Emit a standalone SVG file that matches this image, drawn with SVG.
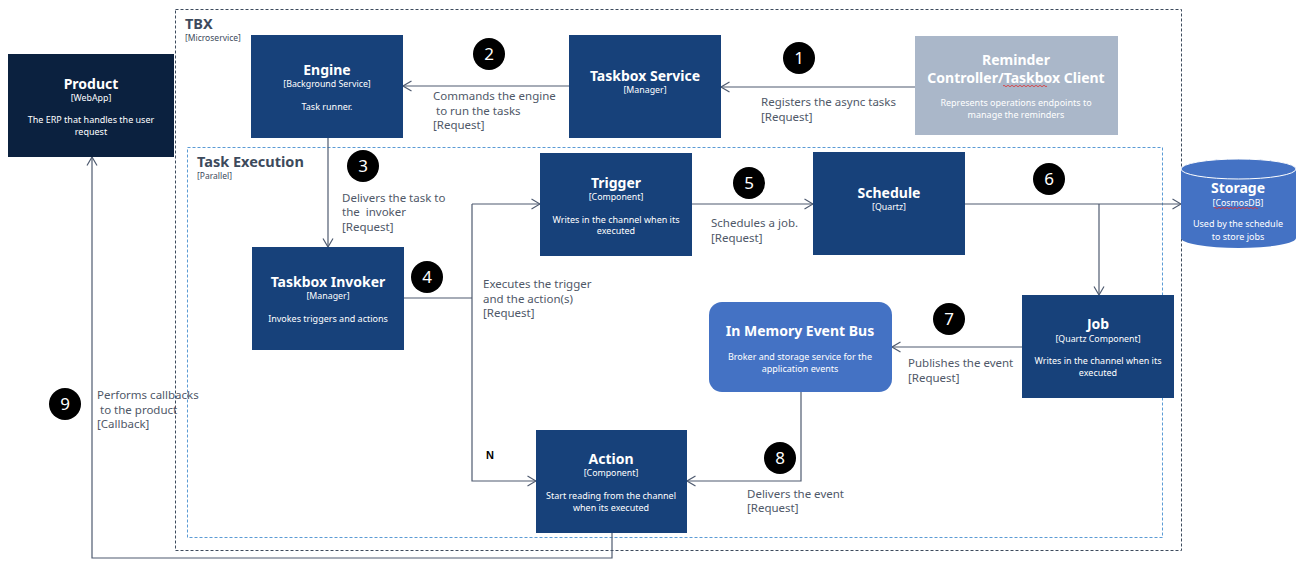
<svg xmlns="http://www.w3.org/2000/svg" width="1301" height="568" viewBox="0 0 1301 568">
  <style>
    .boundary { fill: none; stroke: #3d4a5c; stroke-width: 1; stroke-dasharray: 3 2; }
    .inner { fill: none; stroke: #5b9bd5; stroke-width: 1; stroke-dasharray: 3 2; }
    .btitle { font-family: "Noto Sans", "Open Sans", sans-serif; font-weight: bold; font-size: 14.5px; fill: #3d4a5c; }
    .btype { font-family: "Noto Sans", "Open Sans", sans-serif; font-size: 8.5px; fill: #3d4a5c; }
    .box { fill: #17417a; }
    .title { font-family: "Noto Sans", "Open Sans", sans-serif; font-weight: bold; font-size: 14px; fill: #ffffff; text-anchor: middle; }
    .type { font-family: "Noto Sans", "Open Sans", sans-serif; font-size: 8.8px; fill: #ffffff; text-anchor: middle; }
    .desc { font-family: "Noto Sans", "Open Sans", sans-serif; font-size: 9px; fill: #ffffff; text-anchor: middle; }
    .wire { fill: none; stroke: #4f5b70; stroke-width: 1.2; }
    .label { font-family: "Noto Sans", "Open Sans", sans-serif; font-size: 11.5px; fill: #4f5868; white-space: pre; }
    .badge { fill: #000000; }
    .num { font-family: "Noto Sans", "Open Sans", sans-serif; font-size: 17px; fill: #ffffff; text-anchor: middle; }
    .squiggle { fill: none; stroke: #e03030; stroke-width: 0.8; }
  </style>
  <defs>
    <marker id="arrow" viewBox="0 0 10 12" refX="9.5" refY="6" markerWidth="10" markerHeight="12" markerUnits="userSpaceOnUse" orient="auto">
      <path d="M1 1 L9.5 6 L1 11" fill="none" stroke="#4f5b70" stroke-width="1.2"/>
    </marker>
  </defs>

  <rect width="1301" height="568" fill="#ffffff"/>

  <!-- TBX microservice boundary -->
  <g id="tbx">
    <rect class="boundary" x="175.5" y="9.5" width="1006" height="541"/>
    <text class="btitle" x="185" y="29">TBX</text>
    <text class="btype" x="185" y="41">[Microservice]</text>
  </g>

  <!-- Task execution boundary -->
  <g id="task-execution">
    <rect class="inner" x="187.5" y="147.5" width="975" height="390"/>
    <text class="btitle" x="197" y="167">Task Execution</text>
    <text class="btype" x="197" y="179">[Parallel]</text>
  </g>

  <!-- Connectors -->
  <g id="connectors">
    <path class="wire" d="M915 87 H721" marker-end="url(#arrow)"/>
    <path class="wire" d="M569 86 H403" marker-end="url(#arrow)"/>
    <path class="wire" d="M328 138 V247" marker-end="url(#arrow)"/>
    <path class="wire" d="M404 298 H472"/>
    <path class="wire" d="M472 204 H540" marker-end="url(#arrow)"/>
    <path class="wire" d="M472 204 V481 H536" marker-end="url(#arrow)"/>
    <path class="wire" d="M692 204 H813" marker-end="url(#arrow)"/>
    <path class="wire" d="M965 204 H1181" marker-end="url(#arrow)"/>
    <path class="wire" d="M1099 204 V295" marker-end="url(#arrow)"/>
    <path class="wire" d="M1022 347 H892" marker-end="url(#arrow)"/>
    <path class="wire" d="M801 392 V481 H687" marker-end="url(#arrow)"/>
    <path class="wire" d="M612 533 V558 H92 V157" marker-end="url(#arrow)"/>

    <text class="label" x="761" y="106">Registers the async tasks</text>
    <text class="label" x="761" y="121">[Request]</text>

    <text class="label" x="433" y="100">Commands the engine</text>
    <text class="label" x="433" y="115" xml:space="preserve"> to run the tasks</text>
    <text class="label" x="433" y="129">[Request]</text>

    <text class="label" x="342" y="202">Delivers the task to</text>
    <text class="label" x="342" y="216" xml:space="preserve">the  invoker</text>
    <text class="label" x="342" y="231">[Request]</text>

    <text class="label" x="483" y="288">Executes the trigger</text>
    <text class="label" x="483" y="303">and the action(s)</text>
    <text class="label" x="483" y="317">[Request]</text>

    <text class="label" x="711" y="227">Schedules a job.</text>
    <text class="label" x="711" y="242">[Request]</text>

    <text class="label" x="908" y="367">Publishes the event</text>
    <text class="label" x="908" y="382">[Request]</text>

    <text class="label" x="747" y="498">Delivers the event</text>
    <text class="label" x="747" y="512">[Request]</text>

    <text class="label" x="97" y="399">Performs callbacks</text>
    <text class="label" x="97" y="414" xml:space="preserve"> to the product</text>
    <text class="label" x="97" y="428">[Callback]</text>

    <text x="486" y="459" font-family="Liberation Sans, Arial, sans-serif" font-weight="bold" font-size="11" fill="#000000">N</text>
  </g>

  <!-- Product -->
  <g id="product">
    <rect x="8" y="54" width="166" height="103" fill="#0b213f"/>
    <text class="title" x="91" y="89">Product</text>
    <text class="type" x="91" y="101">[WebApp]</text>
    <text class="desc" x="91" y="123">The ERP that handles the user</text>
    <text class="desc" x="91" y="135">request</text>
  </g>

  <!-- Engine -->
  <g id="engine">
    <rect class="box" x="251" y="35" width="152" height="103"/>
    <text class="title" x="327" y="75">Engine</text>
    <text class="type" x="327" y="87">[Background Service]</text>
    <text class="desc" x="327" y="110">Task runner.</text>
  </g>

  <!-- Taskbox Service -->
  <g id="taskbox-service">
    <rect class="box" x="569" y="35" width="152" height="103"/>
    <text class="title" x="645" y="81">Taskbox Service</text>
    <text class="type" x="645" y="93">[Manager]</text>
  </g>

  <!-- Reminder Controller / Taskbox Client -->
  <g id="reminder-controller">
    <rect x="915" y="36" width="203" height="99" fill="#aab7c9"/>
    <text class="title" x="1016" y="65">Reminder</text>
    <text class="title" x="1016" y="83">Controller/Taskbox Client</text>
    <path class="squiggle" d="M1003 86 q1 -1.5 2 0 t2 0 t2 0 t2 0 t2 0 t2 0 t2 0 t2 0 t2 0 t2 0 t2 0 t2 0 t2 0 t2 0 t2 0 t2 0 t2 0 t2 0 t2 0 t2 0 t2 0 t2 0"/>
    <text class="desc" x="1016" y="106">Represents operations endpoints to</text>
    <text class="desc" x="1016" y="118">manage the reminders</text>
  </g>

  <!-- Trigger -->
  <g id="trigger">
    <rect class="box" x="540" y="153" width="152" height="103"/>
    <text class="title" x="616" y="188">Trigger</text>
    <text class="type" x="616" y="200">[Component]</text>
    <text class="desc" x="616" y="223">Writes in the channel when its</text>
    <text class="desc" x="616" y="234">executed</text>
  </g>

  <!-- Schedule -->
  <g id="schedule">
    <rect class="box" x="813" y="152" width="152" height="103"/>
    <text class="title" x="889" y="198">Schedule</text>
    <text class="type" x="889" y="210">[Quartz]</text>
  </g>

  <!-- Storage -->
  <g id="storage">
    <path d="M1181 169 A57.5 10 0 0 1 1296 169 V238 A57.5 10 0 0 1 1181 238 Z" fill="#4472c4"/>
    <ellipse cx="1238.5" cy="169" rx="57.5" ry="10" fill="#4472c4" stroke="#ffffff" stroke-width="1"/>
    <text class="title" x="1238" y="193">Storage</text>
    <text class="type" x="1238" y="206">[CosmosDB]</text>
    <path class="squiggle" d="M1214 208 q1 -1.5 2 0 t2 0 t2 0 t2 0 t2 0 t2 0 t2 0 t2 0 t2 0 t2 0 t2 0 t2 0 t2 0 t2 0 t2 0 t2 0 t2 0 t2 0 t2 0 t2 0 t2 0 t2 0"/>
    <text class="desc" x="1238" y="227">Used by the schedule</text>
    <text class="desc" x="1238" y="240">to store jobs</text>
  </g>

  <!-- Taskbox Invoker -->
  <g id="taskbox-invoker">
    <rect class="box" x="252" y="247" width="152" height="103"/>
    <text class="title" x="328" y="287">Taskbox Invoker</text>
    <text class="type" x="328" y="299">[Manager]</text>
    <text class="desc" x="328" y="322">Invokes triggers and actions</text>
  </g>

  <!-- Job -->
  <g id="job">
    <rect class="box" x="1022" y="295" width="152" height="103"/>
    <text class="title" x="1098" y="329">Job</text>
    <text class="type" x="1098" y="342">[Quartz Component]</text>
    <text class="desc" x="1098" y="364">Writes in the channel when its</text>
    <text class="desc" x="1098" y="376">executed</text>
  </g>

  <!-- In Memory Event Bus -->
  <g id="event-bus">
    <rect x="709" y="302" width="183" height="90" rx="13" fill="#4472c4"/>
    <text class="title" x="800" y="336">In Memory Event Bus</text>
    <text class="desc" x="800" y="360">Broker and storage service for the</text>
    <text class="desc" x="800" y="372">application events</text>
  </g>

  <!-- Action -->
  <g id="action">
    <rect class="box" x="536" y="430" width="151" height="103"/>
    <text class="title" x="611" y="464">Action</text>
    <text class="type" x="611" y="476">[Component]</text>
    <text class="desc" x="611" y="499">Start reading from the channel</text>
    <text class="desc" x="611" y="511">when its executed</text>
  </g>

  <!-- Step badges -->
  <g id="steps">
    <circle class="badge" cx="799" cy="58" r="16"/><text class="num" x="799" y="64">1</text>
    <circle class="badge" cx="489" cy="54" r="16"/><text class="num" x="489" y="60">2</text>
    <circle class="badge" cx="363" cy="166" r="16"/><text class="num" x="363" y="172">3</text>
    <circle class="badge" cx="427" cy="277" r="16"/><text class="num" x="427" y="283">4</text>
    <circle class="badge" cx="749" cy="183" r="16"/><text class="num" x="749" y="189">5</text>
    <circle class="badge" cx="1049" cy="179" r="16"/><text class="num" x="1049" y="185">6</text>
    <circle class="badge" cx="949" cy="319" r="16"/><text class="num" x="949" y="325">7</text>
    <circle class="badge" cx="780" cy="458" r="16"/><text class="num" x="780" y="464">8</text>
    <circle class="badge" cx="65" cy="404" r="16"/><text class="num" x="65" y="410">9</text>
  </g>
</svg>
